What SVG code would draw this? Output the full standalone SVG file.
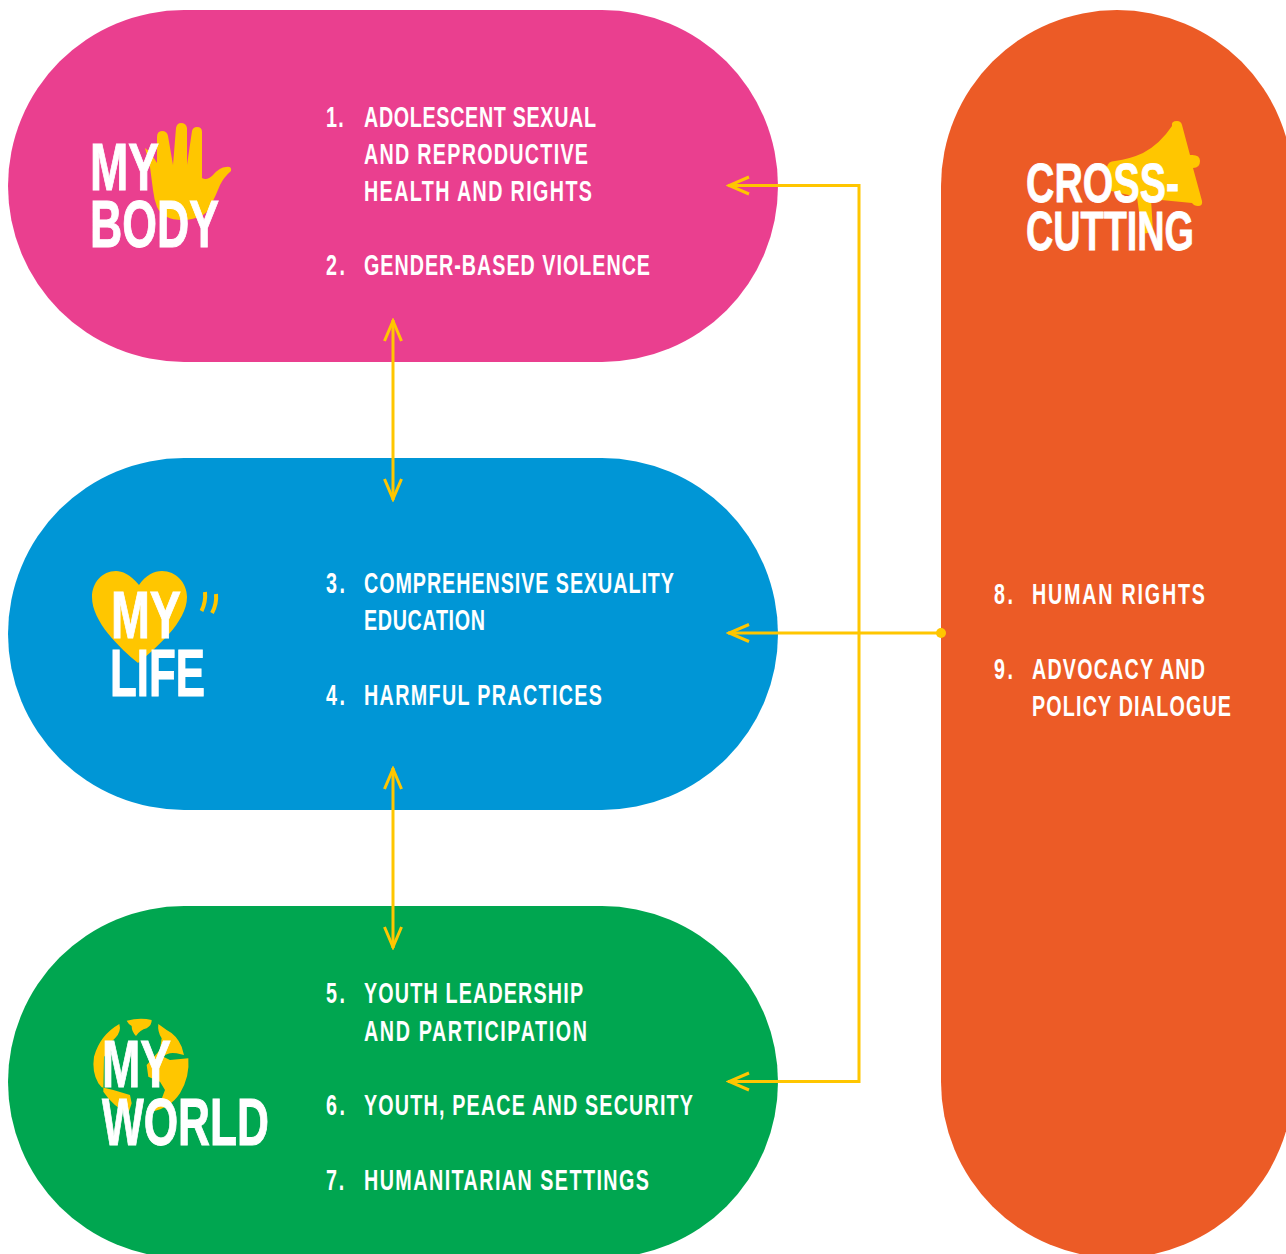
<svg xmlns="http://www.w3.org/2000/svg" width="1286" height="1254" viewBox="0 0 1286 1254">
<defs>
<style>
.t{font-family:"Liberation Sans",sans-serif;font-weight:700;fill:#fff;font-size:67px;stroke:#fff;stroke-width:1px}
.s{font-size:55px;stroke-width:.8px}
.l{font-family:"Liberation Sans",sans-serif;font-weight:700;fill:#fff;font-size:29px}
.y{fill:#ffc600}
.c{fill:none;stroke:#ffc600;stroke-width:3}
</style>
<marker id="a" viewBox="0 0 26 24" refX="24" refY="12" markerWidth="26" markerHeight="24" markerUnits="userSpaceOnUse" orient="auto-start-reverse">
<path d="M3 3.500L23 12L3 20.500" fill="none" stroke="#ffc600" stroke-width="3"/>
</marker>
</defs>
<rect width="1286" height="1254" fill="#fff"/>
<g id="my-body">
<rect x="8" y="10" width="770" height="352" rx="176" fill="#ea3f8f"/>
<path class="y" d="M145 148L150 152L157 163L157 137Q157 131 162 131Q167 131 168 136L173 165L176 128Q177 123 181 123Q186 123 187 128L187 165L192 131Q193 127 197 127Q202 127 202 132L202 178Q207 181 213 175Q220 167 226 167Q232 166 231 171Q224 177 220 185Q216 195 212 203Q208 212 203 215Q193 220 183 220Q172 220 167 217Q159 212 157 207Q154 199 153 190L150 167Z"/>
<text class="t" x="90" y="190" textLength="69" lengthAdjust="spacingAndGlyphs">MY</text>
<text class="t" x="90" y="247" textLength="129" lengthAdjust="spacingAndGlyphs">BODY</text>
<text class="l" transform="translate(326 126.500) scale(.68 1)" textLength="26" lengthAdjust="spacing">1.</text>
<text class="l" transform="translate(364 126.500) scale(.68 1)" textLength="341.200" lengthAdjust="spacing">ADOLESCENT SEXUAL</text>
<text class="l" transform="translate(364 163.500) scale(.68 1)" textLength="329.400" lengthAdjust="spacing">AND REPRODUCTIVE</text>
<text class="l" transform="translate(364 201) scale(.68 1)" textLength="335.300" lengthAdjust="spacing">HEALTH AND RIGHTS</text>
<text class="l" transform="translate(326 275) scale(.68 1)" textLength="28" lengthAdjust="spacing">2.</text>
<text class="l" transform="translate(364 275) scale(.68 1)" textLength="420.600" lengthAdjust="spacing">GENDER-BASED VIOLENCE</text>
</g>
<g id="my-life">
<rect x="8" y="458" width="770" height="352" rx="176" fill="#0096d6"/>
<path class="y" d="M139 585C130 574 122 571 116 571C102 571 92 583 92 597C92 622 120 648 138 663C156 648 187 622 187 597C187 583 176 571 162 571C154 571 146 575 139 585Z"/>
<path d="M205 592Q206 602 201.500 611M216 594Q217 604 212 613" fill="none" stroke="#ffc600" stroke-width="4"/>
<text class="t" x="111" y="638" textLength="70" lengthAdjust="spacingAndGlyphs">MY</text>
<text class="t" x="110" y="696" textLength="95" lengthAdjust="spacingAndGlyphs">LIFE</text>
<text class="l" transform="translate(326 593) scale(.68 1)" textLength="28" lengthAdjust="spacing">3.</text>
<text class="l" transform="translate(364 593) scale(.68 1)" textLength="455.900" lengthAdjust="spacing">COMPREHENSIVE SEXUALITY</text>
<text class="l" transform="translate(364 630) scale(.68 1)" textLength="177.900" lengthAdjust="spacing">EDUCATION</text>
<text class="l" transform="translate(326 705) scale(.68 1)" textLength="28" lengthAdjust="spacing">4.</text>
<text class="l" transform="translate(364 705) scale(.68 1)" textLength="350" lengthAdjust="spacing">HARMFUL PRACTICES</text>
</g>
<g id="my-world">
<rect x="8" y="906" width="770" height="352" rx="176" fill="#00a650"/>
<g transform="translate(80 1000) scale(.3333)">
<path class="y" d="M140 62Q180 52 215 60Q216 75 200 85Q180 90 168 108Q155 95 155 78Q145 72 140 62Z"/>
<path class="y" d="M235 72L260 90Q290 105 305 140L312 165L290 160Q265 155 250 170L270 180L325 175Q330 230 300 280Q270 325 215 335L240 310L255 270L240 245L205 230L200 195L240 150L245 115Q232 95 235 72Z"/>
<path class="y" d="M118 72Q60 105 42 170Q35 215 55 250L65 262L100 270L150 285L155 310L145 340Q100 320 70 275L72 170L95 150Q85 130 105 115Q125 95 118 72Z"/>
</g>
<text class="t" x="102" y="1087" textLength="69" lengthAdjust="spacingAndGlyphs">MY</text>
<text class="t" x="102" y="1145" textLength="167" lengthAdjust="spacingAndGlyphs">WORLD</text>
<text class="l" transform="translate(326 1003) scale(.68 1)" textLength="28" lengthAdjust="spacing">5.</text>
<text class="l" transform="translate(364 1003) scale(.68 1)" textLength="322.100" lengthAdjust="spacing">YOUTH LEADERSHIP</text>
<text class="l" transform="translate(364 1041) scale(.68 1)" textLength="327.900" lengthAdjust="spacing">AND PARTICIPATION</text>
<text class="l" transform="translate(326 1115) scale(.68 1)" textLength="28" lengthAdjust="spacing">6.</text>
<text class="l" transform="translate(364 1115) scale(.68 1)" textLength="483.800" lengthAdjust="spacing">YOUTH, PEACE AND SECURITY</text>
<text class="l" transform="translate(326 1190) scale(.68 1)" textLength="27" lengthAdjust="spacing">7.</text>
<text class="l" transform="translate(364 1190) scale(.68 1)" textLength="419.100" lengthAdjust="spacing">HUMANITARIAN SETTINGS</text>
</g>
<g id="cross-cutting">
<rect x="941" y="10" width="352" height="1248" rx="176" fill="#ec5b26"/>
<path class="y" d="M1172 126Q1171 121 1177 121Q1181 121 1182 125L1190 155Q1200 154 1200 161Q1200 168 1193 168L1202 201Q1203 206 1198 206Q1194 206 1192 203L1151 199L1153 232L1142 234L1137 197L1107 190L1107 167Q1108 161 1115 161Q1130 159 1143 153Q1160 144 1172 126Z"/>
<text class="t s" x="1026" y="202" textLength="153" lengthAdjust="spacingAndGlyphs">CROSS-</text>
<text class="t s" x="1026" y="250" textLength="168" lengthAdjust="spacingAndGlyphs">CUTTING</text>
<text class="l" transform="translate(994 604) scale(.68 1)" textLength="28" lengthAdjust="spacing">8.</text>
<text class="l" transform="translate(1032 604) scale(.68 1)" textLength="254.400" lengthAdjust="spacing">HUMAN RIGHTS</text>
<text class="l" transform="translate(994 679) scale(.68 1)" textLength="28" lengthAdjust="spacing">9.</text>
<text class="l" transform="translate(1032 679) scale(.68 1)" textLength="254.400" lengthAdjust="spacing">ADVOCACY AND</text>
<text class="l" transform="translate(1032 716) scale(.68 1)" textLength="292.600" lengthAdjust="spacing">POLICY DIALOGUE</text>
</g>
<g id="connectors">
<path class="c" d="M393 320V500" marker-start="url(#a)" marker-end="url(#a)"/>
<path class="c" d="M393 768V948" marker-start="url(#a)" marker-end="url(#a)"/>
<path class="c" d="M859 185.500H728" marker-end="url(#a)"/>
<path class="c" d="M859 1081.500H728" marker-end="url(#a)"/>
<path class="c" d="M941 633H728" marker-end="url(#a)"/>
<path class="c" d="M859 184V1083"/>
<circle cx="941" cy="633" r="5" class="y"/>
</g>
</svg>
